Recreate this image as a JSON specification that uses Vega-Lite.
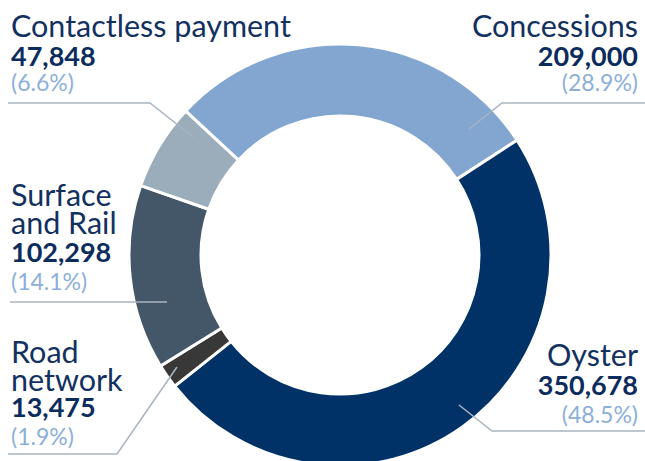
{
  "$schema": "https://vega.github.io/schema/vega-lite/v6.json",
  "autosize": "none",
  "width": 420,
  "height": 412,
  "padding": {"left": 130, "top": 49, "right": 95, "bottom": 0},
  "background": "white",
  "config": {"view": {"stroke": null}, "font": "Lato"},
  "datasets": {
    "segments": [
      {"name": "Concessions", "value": 209000, "idx": 1},
      {"name": "Oyster", "value": 350678, "idx": 2},
      {"name": "Road network", "value": 13475, "idx": 3},
      {"name": "Surface and Rail", "value": 102298, "idx": 4},
      {"name": "Contactless payment", "value": 47848, "idx": 5}
    ],
    "labels": [
      {"name": "Contactless payment", "title": "Contactless payment", "value": 47848, "pctLabel": "(6.6%)", "side": "left", "x": 11, "yTitle": 37, "yValue": 66, "yPct": 91},
      {"name": "Concessions", "title": "Concessions", "value": 209000, "pctLabel": "(28.9%)", "side": "right", "x": 638, "yTitle": 37, "yValue": 66, "yPct": 91},
      {"name": "Surface and Rail", "title": "Surface\nand Rail", "value": 102298, "pctLabel": "(14.1%)", "side": "left", "x": 11, "yTitle": 206, "yValue": 262, "yPct": 290},
      {"name": "Road network", "title": "Road\nnetwork", "value": 13475, "pctLabel": "(1.9%)", "side": "left", "x": 11, "yTitle": 363, "yValue": 417, "yPct": 445},
      {"name": "Oyster", "title": "Oyster", "value": 350678, "pctLabel": "(48.5%)", "side": "right", "x": 638, "yTitle": 366, "yValue": 395, "yPct": 423}
    ],
    "leaders": [
      {"name": "Contactless payment", "step": 1, "x": 8, "y": 103},
      {"name": "Contactless payment", "step": 2, "x": 150, "y": 103},
      {"name": "Contactless payment", "step": 3, "x": 193, "y": 137},
      {"name": "Concessions", "step": 1, "x": 645, "y": 103},
      {"name": "Concessions", "step": 2, "x": 502, "y": 103},
      {"name": "Concessions", "step": 3, "x": 469, "y": 129},
      {"name": "Surface and Rail", "step": 1, "x": 10, "y": 302},
      {"name": "Surface and Rail", "step": 2, "x": 167, "y": 302},
      {"name": "Road network", "step": 1, "x": 8, "y": 454},
      {"name": "Road network", "step": 2, "x": 117, "y": 454},
      {"name": "Road network", "step": 3, "x": 177, "y": 367},
      {"name": "Oyster", "step": 1, "x": 645, "y": 431},
      {"name": "Oyster", "step": 2, "x": 492, "y": 431},
      {"name": "Oyster", "step": 3, "x": 459, "y": 405}
    ]
  },
  "layer": [
    {
      "data": {"name": "segments"},
      "mark": {"type": "arc", "innerRadius": 139, "outerRadius": 211, "stroke": "white", "strokeWidth": 3},
      "encoding": {
        "theta": {"field": "value", "type": "quantitative", "stack": true, "scale": {"range": [-0.82, 5.4632]}},
        "color": {
          "field": "name", "type": "nominal", "legend": null,
          "scale": {
            "domain": ["Concessions", "Oyster", "Road network", "Surface and Rail", "Contactless payment"],
            "range": ["#82a6d0", "#003268", "#383838", "#445769", "#9badbb"]
          }
        },
        "order": {"field": "idx", "type": "quantitative"}
      }
    },
    {
      "data": {"name": "leaders"},
      "mark": {"type": "line", "color": "#a9b4c1", "strokeWidth": 1.5},
      "encoding": {
        "x": {"field": "x", "type": "quantitative", "scale": {"domain": [130, 550], "nice": false, "zero": false}, "axis": null},
        "y": {"field": "y", "type": "quantitative", "scale": {"domain": [49, 461], "reverse": true, "nice": false, "zero": false}, "axis": null},
        "detail": {"field": "name", "type": "nominal"},
        "order": {"field": "step", "type": "quantitative"}
      }
    },
    {
      "data": {"name": "labels"},
      "mark": {"type": "text", "fontSize": 30.5, "color": "#12315f", "lineBreak": "\n", "lineHeight": 27.5, "baseline": "alphabetic", "align": {"expr": "datum.side === 'right' ? 'right' : 'left'"}},
      "encoding": {
        "x": {"field": "x", "type": "quantitative", "scale": {"domain": [130, 550], "nice": false, "zero": false}, "axis": null},
        "y": {"field": "yTitle", "type": "quantitative", "scale": {"domain": [49, 461], "reverse": true, "nice": false, "zero": false}, "axis": null},
        "text": {"field": "title", "type": "nominal"}
      }
    },
    {
      "data": {"name": "labels"},
      "mark": {"type": "text", "fontSize": 27, "fontWeight": "bold", "color": "#0b2c5c", "baseline": "alphabetic", "align": {"expr": "datum.side === 'right' ? 'right' : 'left'"}},
      "encoding": {
        "x": {"field": "x", "type": "quantitative", "scale": {"domain": [130, 550], "nice": false, "zero": false}, "axis": null},
        "y": {"field": "yValue", "type": "quantitative", "scale": {"domain": [49, 461], "reverse": true, "nice": false, "zero": false}, "axis": null},
        "text": {"field": "value", "type": "quantitative", "format": ","}
      }
    },
    {
      "data": {"name": "labels"},
      "mark": {"type": "text", "fontSize": 23, "color": "#8cafda", "baseline": "alphabetic", "align": {"expr": "datum.side === 'right' ? 'right' : 'left'"}},
      "encoding": {
        "x": {"field": "x", "type": "quantitative", "scale": {"domain": [130, 550], "nice": false, "zero": false}, "axis": null},
        "y": {"field": "yPct", "type": "quantitative", "scale": {"domain": [49, 461], "reverse": true, "nice": false, "zero": false}, "axis": null},
        "text": {"field": "pctLabel", "type": "nominal"}
      }
    }
  ]
}
